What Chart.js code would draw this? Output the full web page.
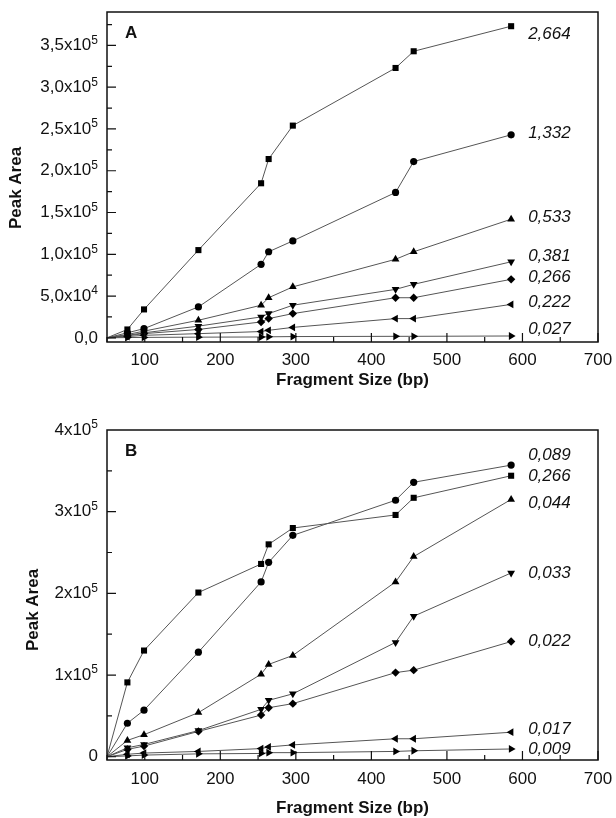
<!DOCTYPE html>
<html>
<head>
<meta charset="utf-8">
<script src="https://cdn.jsdelivr.net/npm/chart.js@4.4.1/dist/chart.umd.min.js"></script>
<style>
  html, body { margin: 0; padding: 0; background: #fff; }
  #wrap { position: relative; width: 616px; height: 818px; overflow: hidden; }
  canvas { position: absolute; left: 0; }
  #chartA { top: 0; }
  #chartB { top: 400px; }
</style>
</head>
<body>
<div id="wrap">
  <canvas id="chartA" width="616" height="400" style="width:616px;height:400px"></canvas>
  <canvas id="chartB" width="616" height="420" style="width:616px;height:420px"></canvas>
</div>
<script>
// フラグメントサイズ (bp) — 最初の点は原点付近
const fragSize = [50, 77, 99, 171, 254, 264, 296, 432, 456, 585];

// パネルA
const concA = ['2,664', '1,332', '0,533', '0,381', '0,266', '0,222', '0,027'];
const areaA2664 = [0, 10000, 34000, 105000, 185000, 214000, 254000, 323000, 343000, 373000];
const areaA1332 = [0, 6000, 11000, 37000, 88000, 103000, 116000, 174000, 211000, 243000];
const areaA0533 = [0, 4000, 8000, 21000, 39000, 48000, 61000, 94000, 103000, 142000];
const areaA0381 = [0, 3000, 6000, 14000, 25000, 29000, 39000, 58000, 64000, 91000];
const areaA0266 = [0, 2500, 5000, 10000, 19000, 23000, 29000, 48000, 48000, 70000];
const areaA0222 = [0, 1500, 3000, 5000, 7500, 9000, 12500, 23000, 23000, 40000];
const areaA0027 = [0, 300, 500, 800, 1000, 1200, 1500, 1800, 1800, 2200];

// パネルB
const concB = ['0,089', '0,266', '0,044', '0,033', '0,022', '0,017', '0,009'];
const areaB0089 = [0, 41000, 57000, 128000, 214000, 238000, 271000, 314000, 336000, 357000];
const areaB0266 = [0, 91000, 130000, 201000, 236000, 260000, 280000, 296000, 317000, 344000];
const areaB0044 = [0, 20000, 27000, 54000, 101000, 113000, 124000, 214000, 245000, 315000];
const areaB0033 = [0, 11000, 15000, 32000, 58000, 69000, 77000, 140000, 172000, 225000];
const areaB0022 = [0, 9000, 13000, 31000, 51000, 60000, 65000, 103000, 106000, 141000];
const areaB0017 = [0, 3000, 4500, 6500, 10000, 12000, 14500, 22000, 22000, 30000];
const areaB0009 = [0, 1000, 2000, 3500, 4000, 5000, 5000, 6500, 7300, 9500];

// 目盛り (ラベルは [本体, 指数])
const xTicks = [100, 200, 300, 400, 500, 600, 700];
const xTickLabels = ['100', '200', '300', '400', '500', '600', '700'];
const yTicksA = [0, 50000, 100000, 150000, 200000, 250000, 300000, 350000];
const yTickLabelsA = [['0,0', ''], ['5,0x10', '4'], ['1,0x10', '5'], ['1,5x10', '5'], ['2,0x10', '5'], ['2,5x10', '5'], ['3,0x10', '5'], ['3,5x10', '5']];
const yTicksB = [0, 100000, 200000, 300000, 400000];
const yTickLabelsB = [['0', ''], ['1x10', '5'], ['2x10', '5'], ['3x10', '5'], ['4x10', '5']];

const FONT = "'Liberation Sans', Arial, sans-serif";

// マーカーの形 (順番は系列と同じ)
const markA = [['rect', 0, 4.3], ['circle', 0, 3.6], ['triangle', 0, 4.5], ['triangle', 180, 4.5], ['rectRot', 0, 4.2], ['triangle', 270, 4.5], ['triangle', 90, 4.5]];
const markB = [['circle', 0, 3.6], ['rect', 0, 4.3], ['triangle', 0, 4.5], ['triangle', 180, 4.5], ['rectRot', 0, 4.2], ['triangle', 270, 4.5], ['triangle', 90, 4.5]];

function makeSets(seriesList, concs, marks) {
    return seriesList.map((vals, i) => ({
        label: concs[i],
        data: fragSize.map((x, j) => ({x: x, y: vals[j]})),
        borderColor: '#555',
        borderWidth: 1,
        backgroundColor: '#000',
        pointBackgroundColor: '#000',
        pointBorderColor: '#000',
        pointBorderWidth: 0,
        pointStyle: marks[i][0],
        rotation: marks[i][1],
        pointRadius: ctx => ctx.dataIndex === 0 ? 0 : marks[i][2],
        fill: false,
        tension: 0
    }));
}

// 枠・内向き目盛り・目盛りラベル・系列ラベル
const decoPlugin = {
    id: 'deco',
    afterDatasetsDraw(chart, args, opts) {
        const ctx = chart.ctx;
        const a = chart.chartArea;
        const xs = chart.scales.x, ys = chart.scales.y;
        ctx.save();
        ctx.strokeStyle = '#111';
        ctx.lineWidth = 1.5;
        ctx.strokeRect(a.left, a.top, a.right - a.left, a.bottom - a.top);

        // 内向きの目盛り
        ctx.lineWidth = 1.2;
        ctx.beginPath();
        for (let v = 50; v <= 700; v += 50) {
            const px = xs.getPixelForValue(v);
            const len = v % 100 === 0 ? 9 : 5;
            ctx.moveTo(px, a.bottom);
            ctx.lineTo(px, a.bottom - len);
        }
        for (let v = 0; v <= opts.yMax; v += opts.yMinor) {
            const py = ys.getPixelForValue(v);
            if (py < a.top + 1) continue;
            const len = v % opts.yMajor === 0 ? 9 : 5;
            ctx.moveTo(a.left, py);
            ctx.lineTo(a.left + len, py);
        }
        ctx.stroke();

        ctx.fillStyle = '#111';
        // x目盛りラベル
        ctx.font = '17px ' + FONT;
        ctx.textAlign = 'center';
        ctx.textBaseline = 'middle';
        xTicks.forEach((v, i) => {
            ctx.fillText(xTickLabels[i], xs.getPixelForValue(v), a.bottom + opts.xLabelGap);
        });
        // y目盛りラベル (指数は上付き)
        opts.yTicks.forEach((v, i) => {
            const py = ys.getPixelForValue(v);
            const [base, sup] = opts.yLabels[i];
            const right = a.left - 9;
            ctx.textAlign = 'right';
            ctx.font = '12px ' + FONT;
            const supW = sup ? ctx.measureText(sup).width : 0;
            if (sup) ctx.fillText(sup, right, py - 5);
            ctx.font = '17px ' + FONT;
            ctx.fillText(base, right - supW, py);
        });

        // y軸タイトル
        ctx.save();
        ctx.font = 'bold 17px ' + FONT;
        ctx.textAlign = 'center';
        ctx.translate(opts.titleX, (a.top + a.bottom) / 2 + opts.titleDy);
        ctx.rotate(-Math.PI / 2);
        ctx.fillText('Peak Area', 0, 0);
        ctx.restore();

        // 濃度ラベル
        ctx.font = 'italic 17px ' + FONT;
        ctx.textAlign = 'left';
        ctx.textBaseline = 'middle';
        chart.data.datasets.forEach((ds, i) => {
            const pts = chart.getDatasetMeta(i).data;
            const last = pts[pts.length - 1];
            ctx.fillText(ds.label, last.x + 17, last.y + opts.dy[i]);
        });

        // パネル記号
        ctx.font = 'bold 17px ' + FONT;
        ctx.textBaseline = 'alphabetic';
        ctx.fillText(opts.letter, a.left + 18, a.top + 26);
        ctx.restore();
    }
};

function buildChart(id, sets, yMin, yMax, yTicks, deco, topPad, axisH, xTitlePad) {
    const ctx = document.getElementById(id).getContext('2d');
    return new Chart(ctx, {
        type: 'line',
        data: {datasets: sets},
        plugins: [decoPlugin],
        options: {
            responsive: false,
            animation: false,
            layout: {padding: {top: topPad, right: 18, left: 0, bottom: 0}},
            plugins: {
                legend: {display: false},
                tooltip: {enabled: false},
                deco: deco
            },
            scales: {
                x: {
                    type: 'linear',
                    min: 50,
                    max: 700,
                    afterBuildTicks: s => { s.ticks = xTicks.map(v => ({value: v})); },
                    afterFit: s => { s.height = axisH; },
                    grid: {display: false, drawTicks: false},
                    border: {display: false},
                    ticks: {display: false},
                    title: {
                        display: true,
                        text: 'Fragment Size (bp)',
                        color: '#111',
                        font: {family: FONT, size: 17, weight: 'bold'},
                        padding: {top: 0, bottom: xTitlePad}
                    }
                },
                y: {
                    type: 'linear',
                    min: yMin,
                    max: yMax,
                    afterBuildTicks: s => { s.ticks = yTicks.map(v => ({value: v})); },
                    afterFit: s => { s.width = 107; },
                    grid: {display: false, drawTicks: false},
                    border: {display: false},
                    ticks: {display: false},
                    title: {display: false}
                }
            }
        }
    });
}

const setsA = makeSets([areaA2664, areaA1332, areaA0533, areaA0381, areaA0266, areaA0222, areaA0027], concA, markA);
const setsB = makeSets([areaB0089, areaB0266, areaB0044, areaB0033, areaB0022, areaB0017, areaB0009], concB, markB);

// A: 描画領域 top 12, bottom 342
buildChart('chartA', setsA, -5000, 390000, yTicksA,
    {letter: 'A', yTicks: yTicksA, yLabels: yTickLabelsA, yMax: 390000, yMinor: 25000, yMajor: 50000,
     xLabelGap: 18, titleX: 16, titleDy: 11, dy: [8, -2, -2, -6, -2, -2, -7]},
    12, 58, 9);
// B: 描画領域 top 430, bottom 760 (キャンバスは y=400 から)
buildChart('chartB', setsB, -4000, 400000, yTicksB,
    {letter: 'B', yTicks: yTicksB, yLabels: yTickLabelsB, yMax: 400000, yMinor: 50000, yMajor: 100000,
     xLabelGap: 19, titleX: 33, titleDy: 15, dy: [-10, 1, 4, 0, 0, -3, 0]},
    30, 60, 1);
</script>
</body>
</html>
